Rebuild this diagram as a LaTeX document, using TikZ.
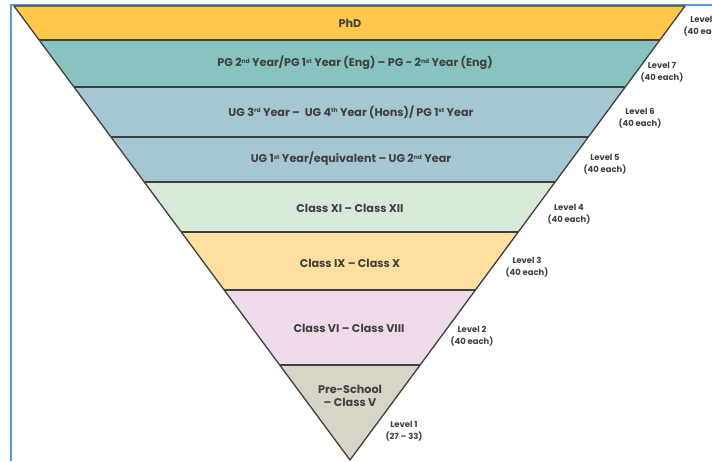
\documentclass[tikz,border=0pt]{standalone}
\usepackage{fontspec}
\setmainfont{Poppins}
\definecolor{frameblue}{HTML}{5B9BD5}
\definecolor{edgegray}{HTML}{3F3F3F}
\definecolor{txtgray}{HTML}{404040}
\definecolor{cPhD}{HTML}{FFC84B}
\definecolor{cPG}{HTML}{86C3C1}
\definecolor{cUG}{HTML}{A7C6D3}
\definecolor{cXI}{HTML}{D6EAD7}
\definecolor{cIX}{HTML}{FEDF9F}
\definecolor{cVI}{HTML}{EFDAEA}
\definecolor{cPre}{HTML}{D8D5C7}
\newcommand{\supx}[1]{\raisebox{0.55ex}{\fontsize{6}{6}\selectfont #1}}
\begin{document}
\begin{tikzpicture}[x=1pt,y=-1pt,
  band/.style={draw=edgegray,line width=1.3pt,line join=round},
  bandtext/.style={font=\bfseries\fontsize{11.2}{13}\selectfont,text=txtgray,align=center,inner sep=0pt},
  leveltext/.style={font=\bfseries\fontsize{8.4}{12}\selectfont,text=txtgray,align=center,inner sep=0pt}]
\useasboundingbox (0,0) rectangle (712,461);
\begin{scope}
\clip (0,0) rectangle (712,461);
% frame
\fill[frameblue] (10,4) rectangle (712,6);
\fill[frameblue] (10,4) rectangle (12,461);
% geometry: top y=6, left x=14, right x=685, apex (350,460)
\def\xl#1{14+0.74009*(#1-6)}
\def\xr#1{685-0.73789*(#1-6)}
\fill[cPhD] ({\xl{6}},6) -- ({\xr{6}},6) -- ({\xr{40}},40) -- ({\xl{40}},40) -- cycle;
\fill[cPG] ({\xl{40}},40) -- ({\xr{40}},40) -- ({\xr{87}},87) -- ({\xl{87}},87) -- cycle;
\fill[cUG] ({\xl{87}},87) -- ({\xr{87}},87) -- ({\xr{182}},182) -- ({\xl{182}},182) -- cycle;
\fill[cXI] ({\xl{182}},182) -- ({\xr{182}},182) -- ({\xr{232}},232) -- ({\xl{232}},232) -- cycle;
\fill[cIX] ({\xl{232}},232) -- ({\xr{232}},232) -- ({\xr{290}},290) -- ({\xl{290}},290) -- cycle;
\fill[cVI] ({\xl{290}},290) -- ({\xr{290}},290) -- ({\xr{365}},365) -- ({\xl{365}},365) -- cycle;
\fill[cPre] ({\xl{365}},365) -- ({\xr{365}},365) -- (350,460) -- cycle;
\foreach \yy in {40,87,137,182,232,290,365}{
  \draw[draw=edgegray,line width=1.3pt] ({\xl{\yy}},\yy) -- ({\xr{\yy}},\yy);
}
\draw[band] ({\xl{6}},6) -- ({\xr{6}},6) -- (350,460) -- cycle;
% band texts
\node[bandtext] (t8) at (350,23) {PhD};
\node[bandtext] (t7) at (355,63) {PG 2\supx{nd} Year/PG 1\supx{st} Year (Eng) – PG - 2\supx{nd} Year (Eng)};
\node[bandtext] (t6) at (351,112) {UG 3\supx{rd} Year –\ \ UG 4\supx{th} Year (Hons)/ PG 1\supx{st} Year};
\node[bandtext] (t5) at (351,159) {UG 1\supx{st} Year/equivalent – UG 2\supx{nd} Year};
\node[bandtext] (t4) at (350,208) {Class XI – Class XII};
\node[bandtext] (t3) at (350,263) {Class IX – Class X};
\node[bandtext] (t2) at (349,328) {Class VI – Class VIII};
\node[bandtext] (t1) at (350,396) {Pre-School\\– Class V};
% level labels
\node[leveltext] (l8) at (705,26) {Level 8\\(40 each)};
\node[leveltext] (l7) at (662,72) {Level 7\\(40 each)};
\node[leveltext] (l6) at (640,118) {Level 6\\(40 each)};
\node[leveltext] (l5) at (605,164) {Level 5\\(40 each)};
\node[leveltext] (l4) at (569,214) {Level 4\\(40 each)};
\node[leveltext] (l3) at (527,267) {Level 3\\(40 each)};
\node[leveltext] (l2) at (472,336) {Level 2\\(40 each)};
\node[leveltext] (l1) at (404,431) {Level 1\\(27 – 33)};
\end{scope}
\end{tikzpicture}
\end{document}
